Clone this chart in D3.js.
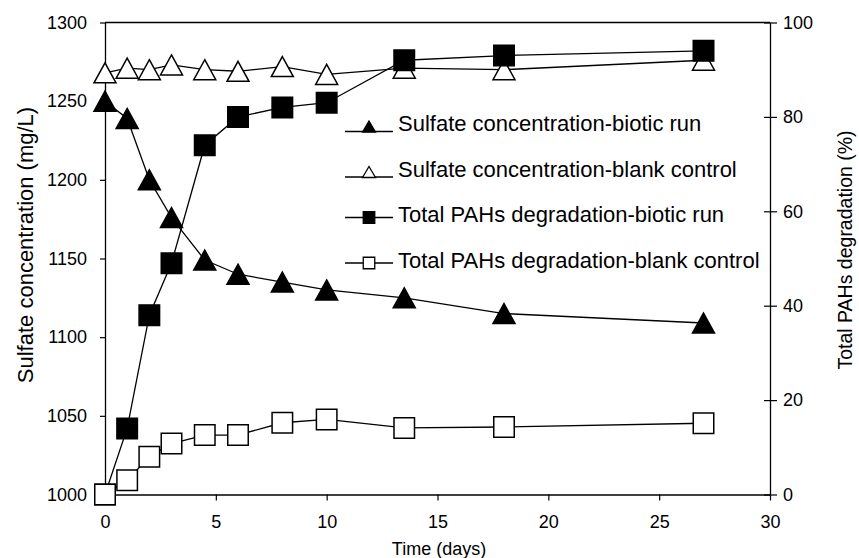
<!DOCTYPE html>
<html>
<head>
<meta charset="utf-8">
<script src="https://cdn.jsdelivr.net/npm/d3@7"></script>
<style>
  body { margin: 0; background: #fff; }
  svg { display: block; }
  text { font-family: "Liberation Sans", Arial, Helvetica, sans-serif; fill: #000; }
</style>
</head>
<body>
<svg id="chart" width="859" height="558"></svg>
<script>
// Sampling days
const days = [0, 1, 2, 3, 4.5, 6, 8, 10, 13.5, 18, 27];

// Sulfate concentration (mg/L), left axis
const sulfateBiotic = [1250, 1239, 1200, 1176, 1149, 1140, 1135, 1130, 1125, 1115, 1109];
const sulfateBlank  = [1268, 1271, 1270, 1273, 1270, 1269, 1272, 1267, 1271, 1270, 1276];

// Total PAHs degradation (%), right axis
const pahsBiotic = [0, 14, 38, 49, 74, 80, 82, 83, 92, 93, 94];
const pahsBlank  = [0, 3, 8, 10.8, 12.6, 12.6, 15.2, 15.9, 14.1, 14.3, 15.1];

// Axis ticks
const xTicks = [0, 5, 10, 15, 20, 25, 30];
const leftTicks = [1000, 1050, 1100, 1150, 1200, 1250, 1300];
const rightTicks = [0, 20, 40, 60, 80, 100];

// Legend labels
const seriesNames = [
  "Sulfate concentration-biotic run",
  "Sulfate concentration-blank control",
  "Total PAHs degradation-biotic run",
  "Total PAHs degradation-blank control"
];

const svg = d3.select("#chart");

const x = d3.scaleLinear().domain([0, 30]).range([105, 770]);
const yL = d3.scaleLinear().domain([1000, 1300]).range([494.5, 22.5]);
const yR = d3.scaleLinear().domain([0, 100]).range([494.5, 22.5]);

// marker shapes, centred on their bounding box
function triPath(w, h) {
  return `M0,${-h / 2}L${w / 2},${h / 2}L${-w / 2},${h / 2}Z`;
}
function sqPath(s) {
  return `M${-s / 2},${-s / 2}h${s}v${s}h${-s}Z`;
}

// frame top edge
svg.append("line")
  .attr("x1", x(0)).attr("x2", x(30))
  .attr("y1", yL(1300)).attr("y2", yL(1300))
  .attr("stroke", "#000").attr("stroke-width", 1.3);

// axes
const fmt = d3.format("d");
const gL = svg.append("g").attr("transform", `translate(${x(0)},0)`)
  .call(d3.axisLeft(yL).tickValues(leftTicks).tickFormat(fmt)
    .tickSize(5).tickSizeOuter(0).tickPadding(13));
const gB = svg.append("g").attr("transform", `translate(0,${yL(1000)})`)
  .call(d3.axisBottom(x).tickValues(xTicks).tickFormat(fmt)
    .tickSize(6).tickSizeOuter(0).tickPadding(15));
const gR = svg.append("g").attr("transform", `translate(${x(30)},0)`)
  .call(d3.axisRight(yR).tickValues(rightTicks).tickFormat(fmt)
    .tickSize(7).tickSizeOuter(0).tickPadding(6));
gR.selectAll(".tick line").attr("x1", -6);

[gL, gB, gR].forEach(g => {
  g.selectAll("path.domain").attr("stroke", "#000").attr("stroke-width", 1.3);
  g.selectAll(".tick line").attr("stroke", "#000").attr("stroke-width", 1.2);
  g.selectAll(".tick text").attr("font-size", 18)
    .style("font-family", '"Liberation Sans", Arial, sans-serif').attr("fill", "#000");
});

// axis titles
svg.append("text")
  .attr("transform", "translate(33,245) rotate(-90)")
  .attr("text-anchor", "middle").attr("font-size", 22)
  .text("Sulfate concentration (mg/L)");
svg.append("text")
  .attr("transform", "translate(852,250) rotate(-90)")
  .attr("text-anchor", "middle").attr("font-size", 19.5)
  .text("Total PAHs degradation (%)");
svg.append("text")
  .attr("x", 439).attr("y", 555)
  .attr("text-anchor", "middle").attr("font-size", 18)
  .text("Time (days)");

// series definitions
const series = [
  { vals: sulfateBiotic, y: yL, shape: "tri", fill: "#000" },
  { vals: sulfateBlank,  y: yL, shape: "tri", fill: "#fff" },
  { vals: pahsBiotic,    y: yR, shape: "sq",  fill: "#000" },
  { vals: pahsBlank,     y: yR, shape: "sq",  fill: "#fff" }
];

const plot = svg.append("g");
series.forEach(s => {
  const pts = days.map((d, i) => [x(d), s.y(s.vals[i])]);
  const g = plot.append("g");
  g.append("path")
    .attr("d", d3.line()(pts))
    .attr("fill", "none").attr("stroke", "#000").attr("stroke-width", 1.3);
  g.selectAll("path.m").data(pts).join("path")
    .attr("class", "m")
    .attr("transform", p => `translate(${p[0]},${p[1]})`)
    .attr("d", s.shape === "tri" ? triPath(22, 20) : sqPath(20.5))
    .attr("fill", s.fill).attr("stroke", "#000").attr("stroke-width", 1.5);
});

// legend
const legendRows = [123.5, 169, 214.5, 260];
const legend = svg.append("g");
series.forEach((s, i) => {
  const cy = legendRows[i];
  const lineY = s.shape === "tri" ? cy + 8 : cy + 3;
  const row = legend.append("g");
  row.append("line")
    .attr("x1", 345).attr("x2", 393)
    .attr("y1", lineY).attr("y2", lineY)
    .attr("stroke", "#000").attr("stroke-width", 1.3);
  row.append("path")
    .attr("transform", s.shape === "tri"
      ? `translate(369,${lineY - 5})`
      : `translate(369,${lineY})`)
    .attr("d", s.shape === "tri" ? triPath(13, 11) : sqPath(11.5))
    .attr("fill", s.fill).attr("stroke", "#000").attr("stroke-width", 1.3);
  row.append("text")
    .attr("x", 398).attr("y", cy)
    .attr("dy", "0.36em")
    .attr("font-size", 22)
    .text(seriesNames[i]);
});
</script>
</body>
</html>
